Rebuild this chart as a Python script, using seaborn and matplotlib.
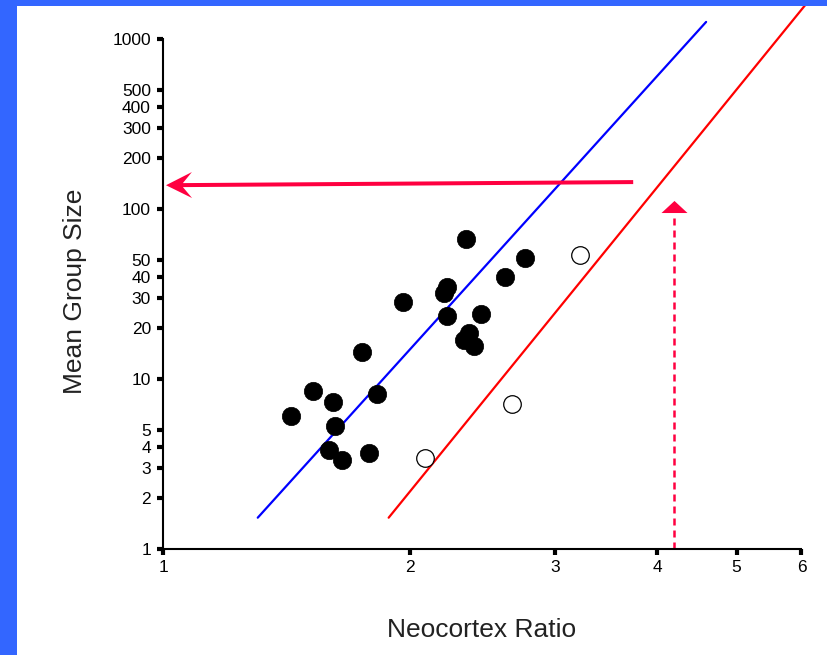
import numpy as np
import pandas as pd
import matplotlib
matplotlib.use("Agg")
import matplotlib.pyplot as plt
import matplotlib.patches as mpatches
from matplotlib.transforms import IdentityTransform
import seaborn as sns

# Neocortex ratio vs mean group size (log-log)
filled_ratio = [1.43, 1.52, 1.61, 1.62, 1.59, 1.65, 1.745, 1.82, 1.78, 1.96,
                2.215, 2.20, 2.215, 2.34, 2.358, 2.325, 2.391, 2.44, 2.61, 2.76]
filled_group = [6.06, 8.53, 7.29, 5.29, 3.82, 3.34, 14.5, 8.16, 3.66, 28.3,
                34.9, 32.2, 23.5, 66.3, 18.6, 16.9, 15.6, 24.0, 40.0, 51.3]
open_ratio = [2.084, 2.66, 3.22]
open_group = [3.42, 7.10, 53.6]

# fitted lines (end points)
blue_x = [1.303, 4.59]
blue_y = [1.528, 1260]
red_x = [1.882, 6.13]
red_y = [1.528, 1690]

# annotation arrows
pred_ratio = 4.2           # dashed arrow up from the x axis
pred_arrow_y = [94.7, 111.5]
horiz_arrow_x = [3.74, 1.007]
horiz_arrow_y = [144, 138]

yticks = [1, 2, 3, 4, 5, 10, 20, 30, 40, 50, 100, 200, 300, 400, 500, 1000]
xticks = [1, 2, 3, 4, 5, 6]

sns.set_style("white")
plt.rcParams['font.family'] = ['Liberation Sans', 'DejaVu Sans']

W, H = 828, 655
fig = plt.figure(figsize=(W / 100, H / 100), dpi=100)
ax = fig.add_axes([163.5 / W, (H - 549) / H, 638 / W, 510 / H])

df_f = pd.DataFrame({"ratio": filled_ratio, "group": filled_group})
df_o = pd.DataFrame({"ratio": open_ratio, "group": open_group})

sns.lineplot(x=blue_x, y=blue_y, color="#0000FF", lw=1.6, ax=ax, clip_on=False, zorder=2)
sns.lineplot(x=red_x, y=red_y, color="#FF0000", lw=1.6, ax=ax, clip_on=False, zorder=2)
sns.scatterplot(data=df_f, x="ratio", y="group", s=175, color="black",
                edgecolor="black", linewidth=0.5, ax=ax, zorder=3, clip_on=False)
sns.scatterplot(data=df_o, x="ratio", y="group", s=160, color="white",
                edgecolor="black", linewidth=0.9, ax=ax, zorder=3, clip_on=False)

ax.set_xscale("log")
ax.set_yscale("log")
ax.set_xlim(1, 6)
ax.set_ylim(1, 1000)
ax.set_xticks(xticks)
ax.set_xticklabels([str(t) for t in xticks])
ax.set_yticks(yticks)
ax.set_yticklabels([str(t) for t in yticks])
ax.minorticks_off()
# seaborn "white" hides the tick marks, switch them back on
ax.tick_params(axis="both", which="major", direction="out", length=4, width=3,
               color="black", labelsize=12.5, labelcolor="black",
               left=True, bottom=True)
ax.tick_params(axis="y", pad=5)
ax.tick_params(axis="x", pad=4)

for side in ["top", "right"]:
    ax.spines[side].set_visible(False)
for side in ["left", "bottom"]:
    ax.spines[side].set_color("black")
    ax.spines[side].set_linewidth(1.5)

ax.set_xlabel("Neocortex Ratio", fontsize=19, color="#222222")
ax.set_ylabel("Mean Group Size", fontsize=19, color="#222222")
ax.xaxis.set_label_coords(0.499, (549 - 630) / 510)
ax.xaxis.label.set_va("center")
ax.yaxis.set_label_coords((75 - 163.5) / 638, 0.506)
ax.yaxis.label.set_va("center")

# dashed shaft of the vertical arrow
arrow_col = "#FF0040"
ax.plot([pred_ratio, pred_ratio], [1, pred_arrow_y[0]], color=arrow_col, lw=1.8,
        dashes=(2.8, 2.0), zorder=2, clip_on=False)

# arrow heads drawn in pixel space so they keep their shape on log axes
fig.canvas.draw()
t0 = ax.transData.transform((horiz_arrow_x[0], horiz_arrow_y[0]))
t1 = ax.transData.transform((horiz_arrow_x[1], horiz_arrow_y[1]))
ax.add_patch(mpatches.FancyArrow(t0[0], t0[1], t1[0] - t0[0], t1[1] - t0[1],
                                 width=4, head_width=26, head_length=26, overhang=0.35,
                                 length_includes_head=True, color=arrow_col, lw=0,
                                 transform=IdentityTransform(), clip_on=False, zorder=4))
v0 = ax.transData.transform((pred_ratio, pred_arrow_y[0]))
v1 = ax.transData.transform((pred_ratio, pred_arrow_y[1]))
ax.add_patch(mpatches.FancyArrow(v0[0], v0[1], 0, v1[1] - v0[1],
                                 width=2.5, head_width=26, head_length=v1[1] - v0[1],
                                 length_includes_head=True, color=arrow_col, lw=0,
                                 transform=IdentityTransform(), clip_on=False, zorder=4))

# blue slide frame on the left and top
frame = "#3366FF"
fig.add_artist(mpatches.Rectangle((0, 0), 17.5 / W, 1, transform=fig.transFigure,
                                  color=frame, lw=0, zorder=10))
fig.add_artist(mpatches.Rectangle((0, 1 - 5.5 / H), 1, 5.5 / H, transform=fig.transFigure,
                                  color=frame, lw=0, zorder=10))

fig.savefig("out.png", dpi=100)
